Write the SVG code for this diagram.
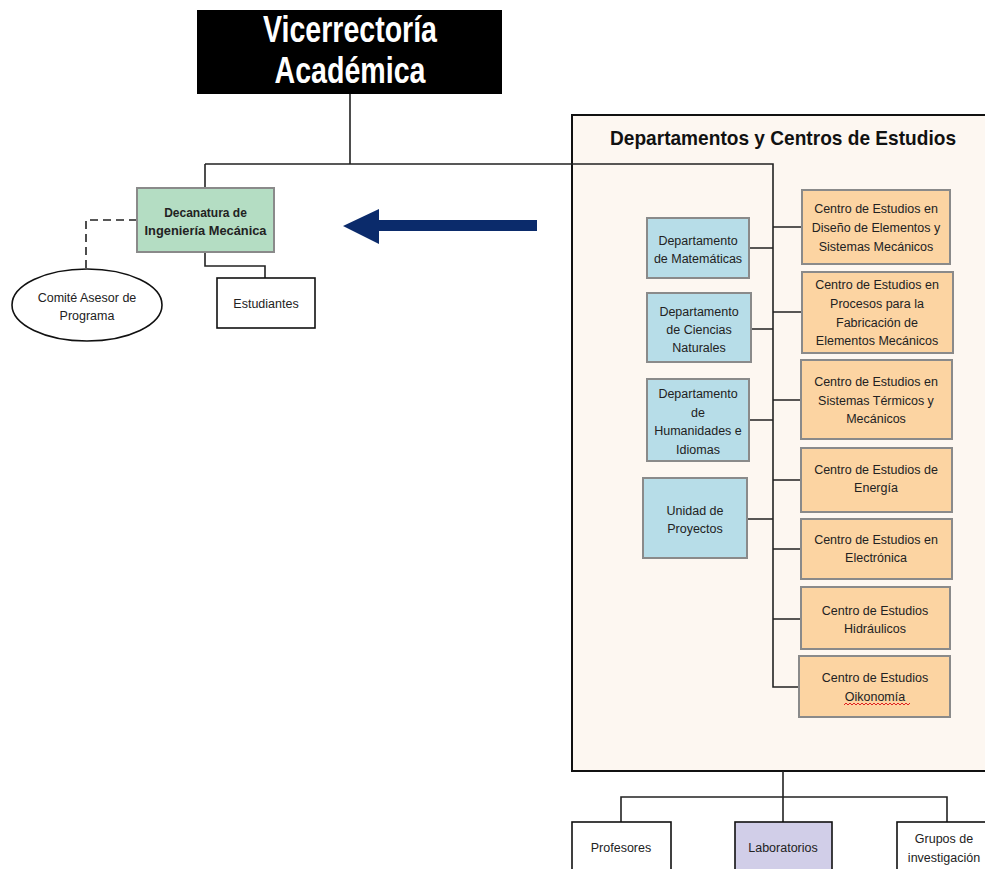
<svg xmlns="http://www.w3.org/2000/svg" width="985" height="869" viewBox="0 0 985 869">
<style>
  .t{font-family:"Liberation Sans",Arial,sans-serif;font-size:12.5px;fill:#222;text-anchor:middle}
  .b{font-weight:bold}
  .big{font-size:36px;fill:#fff}
  .ttl{font-size:21px;fill:#111}
  .dec{font-size:12px;fill:#222}
  .ln{fill:none;stroke:#222;stroke-width:1.6}
  .blue{fill:#b7dde8;stroke:#8a8a8a;stroke-width:2}
  .org{fill:#fcd4a2;stroke:#8a8a8a;stroke-width:2}
  .wbox{fill:#fff;stroke:#111;stroke-width:1.6}
</style>
<rect width="985" height="869" fill="#fff"/>
<g id="panel">
  <rect x="572" y="115" width="420" height="656" fill="#fdf7f1" stroke="#111" stroke-width="2"/>
  <text class="t b ttl" x="783" y="145" textLength="346" lengthAdjust="spacingAndGlyphs">Departamentos y Centros de Estudios</text>
</g>
<g id="connectors">
  <path class="ln" d="M350 94V164M205 164H773V687H799"/>
  <path class="ln" d="M205 164V188"/>
  <path class="ln" d="M205 252V266H265V278"/>
  <path class="ln" d="M137 220H86V269" stroke-dasharray="8,5"/>
  <path class="ln" d="M749 248H773M751 329H773M749 420H773M747 519H773"/>
  <path class="ln" d="M773 227H802M773 312H802M773 400H801M773 480H801M773 549H801M773 619H801"/>
  <path class="ln" d="M783 771V822M621 822V797H947V822"/>
  <polygon points="343,226 379,209 379,220 537,220 537,231 379,231 379,244" fill="#0b2b6b"/>
</g>
<g id="vicerrectoria">
  <rect x="197" y="10" width="305" height="84" fill="#000"/>
  <text class="t b big" x="350" y="42" textLength="174" lengthAdjust="spacingAndGlyphs">Vicerrectoría</text>
  <text class="t b big" x="350" y="83" textLength="151" lengthAdjust="spacingAndGlyphs">Académica</text>
</g>
<g id="decanatura">
  <rect x="137" y="188" width="137" height="64" fill="#b4ddc3" stroke="#8a8a8a" stroke-width="2"/>
  <text class="t b dec" x="205.5" y="216.5">Decanatura de</text>
  <text class="t b dec" x="205.5" y="234.5" textLength="122" lengthAdjust="spacingAndGlyphs">Ingeniería Mecánica</text>
</g>
<g id="comite">
  <ellipse cx="87" cy="305" rx="75" ry="36" fill="#fff" stroke="#111" stroke-width="1.6"/>
  <text class="t" x="87" y="301.5">Comité Asesor de</text>
  <text class="t" x="87" y="319.5">Programa</text>
</g>
<g id="estudiantes">
  <rect class="wbox" x="217" y="278" width="98" height="50"/>
  <text class="t" x="266" y="307.5">Estudiantes</text>
</g>
<g id="dep-matematicas">
  <rect class="blue" x="647" y="218" width="102" height="60"/>
  <text class="t" x="698" y="244.5">Departamento</text>
  <text class="t" x="698" y="262.5">de Matemáticas</text>
</g>
<g id="dep-ciencias">
  <rect class="blue" x="647" y="293" width="104" height="69"/>
  <text class="t" x="699" y="315.5">Departamento</text>
  <text class="t" x="699" y="333.5">de Ciencias</text>
  <text class="t" x="699" y="351.5">Naturales</text>
</g>
<g id="dep-humanidades">
  <rect class="blue" x="647" y="379" width="102" height="82"/>
  <text class="t" x="698" y="397.5">Departamento</text>
  <text class="t" x="698" y="416.5">de</text>
  <text class="t" x="698" y="434.5">Humanidades e</text>
  <text class="t" x="698" y="453.5">Idiomas</text>
</g>
<g id="unidad-proyectos">
  <rect class="blue" x="643" y="478" width="104" height="80"/>
  <text class="t" x="695" y="514.5">Unidad de</text>
  <text class="t" x="695" y="532.5">Proyectos</text>
</g>
<g id="ce-diseno">
  <rect class="org" x="802" y="190" width="148" height="74"/>
  <text class="t" x="876" y="212.5">Centro de Estudios en</text>
  <text class="t" x="876" y="231.5">Diseño de Elementos y</text>
  <text class="t" x="876" y="250.5">Sistemas Mecánicos</text>
</g>
<g id="ce-procesos">
  <rect class="org" x="802" y="272" width="151" height="81"/>
  <text class="t" x="877" y="288.5">Centro de Estudios en</text>
  <text class="t" x="877" y="307.5">Procesos para la</text>
  <text class="t" x="877" y="326.5">Fabricación de</text>
  <text class="t" x="877" y="344.5">Elementos Mecánicos</text>
</g>
<g id="ce-termicos">
  <rect class="org" x="801" y="360" width="151" height="79"/>
  <text class="t" x="876" y="385.5">Centro de Estudios en</text>
  <text class="t" x="876" y="404.5">Sistemas Térmicos y</text>
  <text class="t" x="876" y="422.5">Mecánicos</text>
</g>
<g id="ce-energia">
  <rect class="org" x="801" y="448" width="151" height="64"/>
  <text class="t" x="876" y="473.5">Centro de Estudios de</text>
  <text class="t" x="876" y="491.5">Energía</text>
</g>
<g id="ce-electronica">
  <rect class="org" x="801" y="519" width="151" height="60"/>
  <text class="t" x="876" y="543.5">Centro de Estudios en</text>
  <text class="t" x="876" y="561.5">Electrónica</text>
</g>
<g id="ce-hidraulicos">
  <rect class="org" x="801" y="587" width="149" height="62"/>
  <text class="t" x="875" y="614.5">Centro de Estudios</text>
  <text class="t" x="875" y="632.5">Hidráulicos</text>
</g>
<g id="ce-oikonomia">
  <rect class="org" x="799" y="656" width="151" height="61"/>
  <text class="t" x="875" y="681.5">Centro de Estudios</text>
  <text class="t" x="875" y="700.5">Oikonomía</text>
  <path d="M844 705l2 -2l2 2l2 -2l2 2l2 -2l2 2l2 -2l2 2l2 -2l2 2l2 -2l2 2l2 -2l2 2l2 -2l2 2l2 -2l2 2l2 -2l2 2l2 -2l2 2l2 -2l2 2l2 -2l2 2l2 -2l2 2l2 -2l2 2l2 -2l2 2l2 -2" fill="none" stroke="#e02020" stroke-width="1"/>
</g>
<g id="profesores">
  <rect class="wbox" x="572" y="822" width="99" height="60"/>
  <text class="t" x="621" y="851.5">Profesores</text>
</g>
<g id="laboratorios">
  <rect x="735" y="822" width="97" height="60" fill="#d1cee8" stroke="#111" stroke-width="1.6"/>
  <text class="t" x="783" y="851.5">Laboratorios</text>
</g>
<g id="grupos">
  <rect class="wbox" x="897" y="822" width="100" height="60"/>
  <text class="t" x="944" y="842.5">Grupos de</text>
  <text class="t" x="944" y="861.5">investigación</text>
</g>
</svg>
